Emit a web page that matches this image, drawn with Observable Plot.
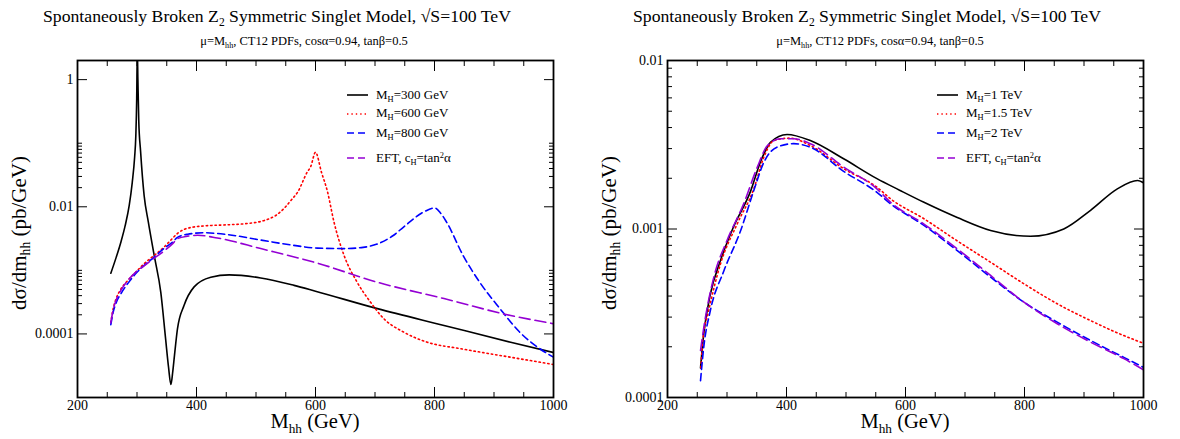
<!DOCTYPE html>
<html><head><meta charset="utf-8">
<script src="https://cdn.jsdelivr.net/npm/d3@7"></script>
<script src="https://cdn.jsdelivr.net/npm/@observablehq/plot@0.6"></script>
<style>
body{margin:0;background:#fff;}
#wrap{position:relative;width:1180px;height:439px;font-family:"Liberation Serif","Times New Roman",serif;color:#000;overflow:hidden;background:#fff;}
.panel{position:absolute;top:0;width:590px;height:439px;}
.panel svg{position:absolute;left:0;top:0;}
.txt{position:absolute;white-space:nowrap;line-height:1;}
.ctr{transform:translateX(-50%);}
.rot{transform:translate(-50%,-50%) rotate(-90deg);}
sub{font-size:0.65em;vertical-align:-0.35em;line-height:0;}
sup{font-size:0.65em;vertical-align:0.5em;line-height:0;}
</style></head>
<body><div id="wrap"></div>
<script>
// ---------- data (M_hh in GeV, dσ/dm_hh in pb/GeV) ----------
const mh300 = [[256,9.0e-4],[265,1.6e-3],[273,2.8e-3],[280,5.0e-3],[287,1.06e-2],[292,2.4e-2],[296,6e-2],[298,0.13],[299.5,0.5],[300.5,3],[301.5,1.0],[303,0.22],[306,0.075],[312,1.5e-2],[319,5.8e-3],[329,1.7e-3],[340,4.5e-4],[348,8.5e-5],[353,3e-5],[357,1.6e-5],[360,2.5e-5],[363,4.6e-5],[368,1.2e-4],[379,2.8e-4],[396,5.5e-4],[424,7.8e-4],[455,8.5e-4],[508,7.6e-4],[564,5.8e-4],[600,4.7e-4],[704,2.5e-4],[816,1.36e-4],[928,7.4e-5],[1000,5.1e-5]];
const mh600 = [[256,1.5e-4],[260,2.5e-4],[265,3.6e-4],[273,5.1e-4],[285,7.0e-4],[298,9.4e-4],[313,1.3e-3],[329,1.72e-3],[345,2.3e-3],[357,3.0e-3],[368,3.8e-3],[379,4.4e-3],[395,4.8e-3],[413,5.0e-3],[450,5.2e-3],[480,5.4e-3],[514,6.1e-3],[535,7.5e-3],[547,9.4e-3],[560,1.3e-2],[570,1.7e-2],[586,3.5e-2],[592,4.3e-2],[600,7.2e-2],[610,3.5e-2],[620,1.75e-2],[631,5.8e-3],[648,1.72e-3],[670,6.5e-4],[692,3.2e-4],[715,1.73e-4],[748,1.07e-4],[788,7.4e-5],[844,5.85e-5],[928,4.3e-5],[1000,3.3e-5]];
const mh800 = [[256,1.4e-4],[260,2.2e-4],[265,3.1e-4],[273,4.3e-4],[285,6.3e-4],[298,8.9e-4],[313,1.22e-3],[329,1.62e-3],[345,2.2e-3],[360,2.8e-3],[368,3.3e-3],[385,3.7e-3],[413,3.9e-3],[452,3.65e-3],[508,3.0e-3],[560,2.5e-3],[603,2.24e-3],[648,2.2e-3],[680,2.3e-3],[704,2.6e-3],[730,3.5e-3],[748,4.8e-3],[782,8.3e-3],[800,9.6e-3],[810,8.0e-3],[820,5.8e-3],[848,1.72e-3],[876,6.5e-4],[910,2.5e-4],[943,1.07e-4],[977,5.85e-5],[1000,4.3e-5]];
const eftLeft = [[256,1.5e-4],[260,2.4e-4],[265,3.4e-4],[273,4.85e-4],[285,7.0e-4],[298,9.4e-4],[313,1.2e-3],[329,1.56e-3],[345,2.0e-3],[360,2.63e-3],[368,3.15e-3],[385,3.45e-3],[402,3.56e-3],[435,3.23e-3],[508,2.2e-3],[603,1.3e-3],[704,6.5e-4],[816,3.6e-4],[928,1.95e-4],[1000,1.45e-4]];

const mh1000 = [[255.5,1.5e-4],[261,2.4e-4],[272,4.1e-4],[289,6.5e-4],[311,1.03e-3],[340,1.69e-3],[356,2.49e-3],[373,3.27e-3],[401,3.64e-3],[440,3.35e-3],[496,2.61e-3],[552,1.99e-3],[590,1.7e-3],[631,1.44e-3],[687,1.17e-3],[743,9.8e-4],[810,9.05e-4],[866,1.0e-3],[911,1.29e-3],[956,1.73e-3],[990,1.94e-3],[1000,1.88e-3]];
const mh1500 = [[256,1.5e-4],[260,2.3e-4],[268,3.14e-4],[289,6.2e-4],[317,1.07e-3],[345,1.73e-3],[362,2.67e-3],[379,3.35e-3],[405,3.46e-3],[440,3.13e-3],[496,2.28e-3],[552,1.77e-3],[575,1.51e-3],[631,1.15e-3],[687,8.5e-4],[743,6.35e-4],[799,4.73e-4],[855,3.6e-4],[911,2.86e-4],[967,2.33e-4],[1000,2.1e-4]];
const mh2000 = [[255.5,1.26e-4],[261,2.0e-4],[272,3.28e-4],[295,5.67e-4],[323,9.8e-4],[345,1.69e-3],[362,2.49e-3],[384,3.06e-3],[412,3.21e-3],[440,3.06e-3],[496,2.2e-3],[552,1.65e-3],[575,1.41e-3],[631,1.05e-3],[687,7.45e-4],[743,5.18e-4],[799,3.68e-4],[855,2.8e-4],[911,2.18e-4],[967,1.73e-4],[1000,1.51e-4]];
const eftRight = [[255.5,1.9e-4],[261,2.6e-4],[278,5.2e-4],[300,8.55e-4],[328,1.41e-3],[351,2.33e-3],[368,3.13e-3],[390,3.43e-3],[412,3.43e-3],[440,3.21e-3],[496,2.33e-3],[552,1.73e-3],[575,1.44e-3],[631,1.07e-3],[687,7.63e-4],[743,5.3e-4],[799,3.68e-4],[855,2.74e-4],[911,2.13e-4],[967,1.7e-4],[1000,1.46e-4]];

const xMajor = [200,400,600,800,1000];
const xMinor = [250,300,350,450,500,550,650,700,750,850,900,950];
const leftYMajor = [1e-4,1e-2,1];
const leftYMinor = [2e-4,3e-4,4e-4,5e-4,6e-4,7e-4,8e-4,9e-4,1e-3,0.02,0.03,0.04,0.05,0.06,0.07,0.08,0.09,0.1];
const rightYMajor = [1e-4,1e-3,1e-2];
const rightYMinor = [2e-4,3e-4,4e-4,5e-4,6e-4,7e-4,8e-4,9e-4,2e-3,3e-3,4e-3,5e-3,6e-3,7e-3,8e-3,9e-3];
const leftLegend = ["M<sub>H</sub>=300 GeV","M<sub>H</sub>=600 GeV","M<sub>H</sub>=800 GeV","EFT, c<sub>H</sub>=tan<sup>2</sup>α"];
const rightLegend = ["M<sub>H</sub>=1 TeV","M<sub>H</sub>=1.5 TeV","M<sub>H</sub>=2 TeV","EFT, c<sub>H</sub>=tan<sup>2</sup>α"];
const titleText = "Spontaneously Broken Z<sub>2</sub> Symmetric Singlet Model, √S=100 TeV";
const subtitleText = "μ=M<sub>hh</sub>, CT12 PDFs, cosα=0.94, tanβ=0.5";
const yLabel = "dσ/dm<sub>hh</sub> (pb/GeV)";
const xLabel = "M<sub>hh</sub> (GeV)";

// ---------- styles ----------
const styles = [
  {stroke:"#000000", dash:null, w:1.6},
  {stroke:"#ff0000", dash:"1.4 3", w:1.6},
  {stroke:"#0000ff", dash:"7 4", w:1.6},
  {stroke:"#9400d3", dash:"11 5", w:1.6}
];
const W = 590, H = 439, mL = 77, mR = 37, mT = 60, mB = 42;
const blank = () => "";
const dims = {width: W, height: H, marginLeft: mL, marginRight: mR, marginTop: mT, marginBottom: mB};

// layer 1: curves (clipped to the frame)
function curves(series, yDomain) {
  return Plot.plot({
    ...dims,
    x: {domain: [200, 1000]},
    y: {type: "log", domain: yDomain},
    axis: null,
    marks: series.map((s, i) => Plot.line(s, {
      x: d => d[0], y: d => d[1], curve: "monotone-x", clip: true,
      stroke: styles[i].stroke, strokeWidth: styles[i].w,
      strokeDasharray: styles[i].dash
    }))
  });
}
// layer 2: frame, inward ticks and tick labels (same scales)
function axes(yDomain, yMajor, yMinor) {
  return Plot.plot({
    ...dims,
    x: {domain: [200, 1000]},
    y: {type: "log", domain: yDomain},
    style: {fontFamily: "Liberation Serif, Times New Roman, serif", fontSize: "14px", color: "#000", background: "transparent"},
    marks: [
      Plot.axisX({anchor: "top", ticks: xMajor, tickSize: -10, tickFormat: blank, label: null}),
      Plot.axisX({anchor: "top", ticks: xMinor, tickSize: -5, tickFormat: blank, label: null}),
      Plot.axisX({anchor: "bottom", ticks: xMinor, tickSize: -5, tickFormat: blank, label: null}),
      Plot.axisY({anchor: "right", ticks: yMajor, tickSize: -10, tickFormat: blank, label: null}),
      Plot.axisY({anchor: "right", ticks: yMinor, tickSize: -5, tickFormat: blank, label: null}),
      Plot.axisY({anchor: "left", ticks: yMinor, tickSize: -5, tickFormat: blank, label: null}),
      Plot.axisX({anchor: "bottom", ticks: xMajor, tickSize: -10, tickPadding: 13, tickFormat: d => String(d), label: null}),
      Plot.axisY({anchor: "left", ticks: yMajor, tickSize: -10, tickPadding: 14, tickFormat: d => String(d), label: null}),
      Plot.frame({strokeWidth: 1.8})
    ]
  });
}

const wrap = document.getElementById("wrap");
function addPanel(left, series, yDomain, yMajor, yMinor) {
  const d = document.createElement("div");
  d.className = "panel"; d.style.left = left + "px";
  d.appendChild(curves(series, yDomain));
  const a = axes(yDomain, yMajor, yMinor);
  a.style.background = "transparent";
  d.appendChild(a);
  wrap.appendChild(d);
}
function addText(html, x, y, size, cls) {
  const d = document.createElement("div");
  d.className = "txt " + cls; d.innerHTML = html;
  d.style.left = x + "px"; d.style.top = y + "px"; d.style.fontSize = size + "px";
  wrap.appendChild(d);
}
function addLegend(items, x0, centers) {
  items.forEach((t, i) => {
    const svgNS = "http://www.w3.org/2000/svg";
    const s = document.createElementNS(svgNS, "svg");
    s.setAttribute("width", 22); s.setAttribute("height", 6);
    s.style.position = "absolute"; s.style.left = x0 + "px"; s.style.top = (centers[i] - 3) + "px";
    const l = document.createElementNS(svgNS, "line");
    l.setAttribute("x1", 0); l.setAttribute("x2", 21); l.setAttribute("y1", 3); l.setAttribute("y2", 3);
    l.setAttribute("stroke", styles[i].stroke); l.setAttribute("stroke-width", styles[i].w);
    if (styles[i].dash) l.setAttribute("stroke-dasharray", i === 1 ? "1.4 3" : "7 4");
    s.appendChild(l); wrap.appendChild(s);
    addText(t, x0 + 29, centers[i] - 7.5, 13, "");
  });
}

addPanel(0, [mh300, mh600, mh800, eftLeft], [1e-5, 2], leftYMajor, leftYMinor);
addPanel(590, [mh1000, mh1500, mh2000, eftRight], [1e-4, 1e-2], rightYMajor, rightYMinor);

addText(titleText, 277, 8, 17.7, "ctr");
addText(subtitleText, 304, 35, 12.5, "ctr");
addText(titleText, 867, 8, 17.7, "ctr");
addText(subtitleText, 880, 35, 12.5, "ctr");
addText(yLabel, 19, 233, 21, "rot");
addText(yLabel, 609, 233, 21, "rot");
addText(xLabel, 315, 411, 20.5, "ctr");
addText(xLabel, 905, 411, 20.5, "ctr");
addLegend(leftLegend, 347, [95, 113.5, 133, 158]);
addLegend(rightLegend, 937, [95, 113.5, 133, 158]);
</script></body></html>
